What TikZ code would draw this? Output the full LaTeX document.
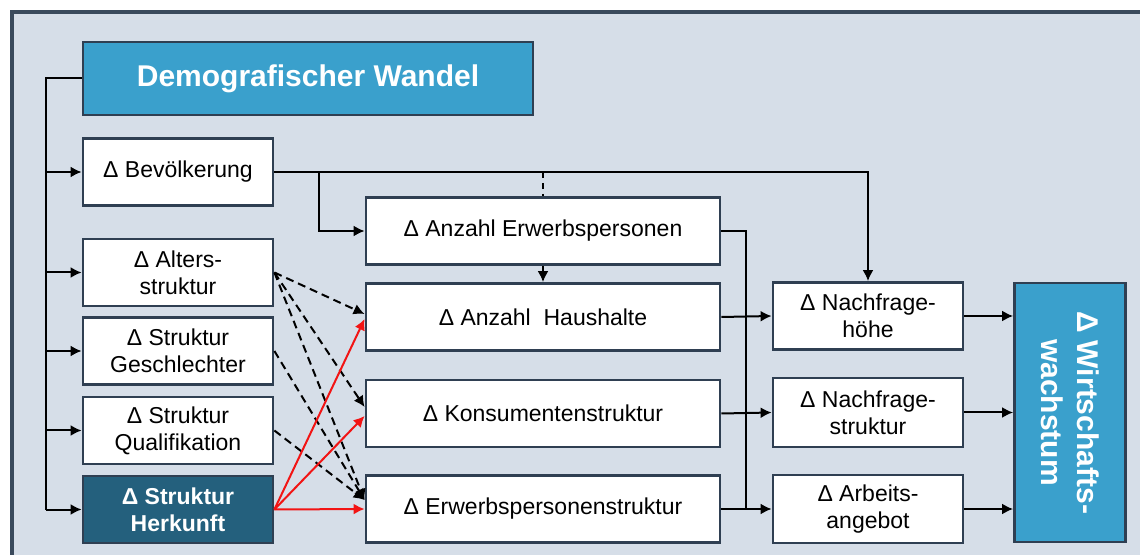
\documentclass[tikz,border=0pt]{standalone}
\usepackage{fontspec}
\setmainfont{Liberation Sans}
\usepackage{tikz}
\usetikzlibrary{arrows.meta}

\definecolor{bgblue}{HTML}{D6DEE8}
\definecolor{framegray}{HTML}{3A4A5C}
\definecolor{boxline}{HTML}{2F3F52}
\definecolor{headblue}{HTML}{3AA0CC}
\definecolor{darkteal}{HTML}{24607D}
\definecolor{arrowred}{HTML}{F21414}

\begin{document}
\begin{tikzpicture}[x=0.5pt,y=-0.5pt,>={Latex[length=5.5pt,width=5.5pt]},
        box/.style={draw=boxline,line width=1.4pt,fill=white,minimum width=95pt,
            minimum height=33.5pt,align=center,inner sep=1pt,
            font=\fontsize{11.5}{13.5}\selectfont},
        wide/.style={box,minimum width=177pt},
        head/.style={box,fill=headblue,text=white,font=\bfseries\fontsize{15}{18}\selectfont},
        link/.style={line width=1pt},
        influence/.style={line width=1pt,dash pattern=on 4pt off 2.5pt},
        redlink/.style={line width=1pt,arrowred}]
        \useasboundingbox (0,0) rectangle (1140,555);
        \clip (0,0) rectangle (1140,555);
        \draw[framegray,line width=1.6pt,fill=bgblue] (12,12) rectangle (1170,590);

        % Ursache
        \node[head,minimum width=225pt,minimum height=36.5pt] (demo) at (308,78.5) {Demografischer Wandel};
        \node[box] (bev) at (178,172) {Δ Bevölkerung};
        \node[box] (alter) at (178,272.5) {Δ Alters-\\struktur};
        \node[box] (geschl) at (178,351) {Δ Struktur\\Geschlechter};
        \node[box] (quali) at (178,430.5) {Δ Struktur\\Qualifikation};
        \node[box,fill=darkteal,text=white,font=\bfseries\fontsize{11.5}{13.5}\selectfont] (herk) at (178,509.5) {Δ Struktur\\Herkunft};

        % Mitte
        \node[wide] (erwp) at (543,231) {Δ Anzahl Erwerbspersonen};
        \node[wide] (haush) at (543,317) {Δ Anzahl~~Haushalte};
        \node[wide] (konsum) at (543,413.5) {Δ Konsumentenstruktur};
        \node[wide] (erwstr) at (543,509) {Δ Erwerbspersonenstruktur};

        % Wirkung
        \node[box] (nfhoehe) at (868,316) {Δ Nachfrage-\\höhe};
        \node[box,minimum height=34.5pt] (nfstr) at (868,412.5) {Δ Nachfrage-\\struktur};
        \node[box,minimum height=34pt] (arbeit) at (868,509) {Δ Arbeits-\\angebot};
        \node[head,rotate=-90,minimum width=129.5pt,minimum height=55.5pt] (wachs) at (1070,412.5) {Δ Wirtschafts-\\wachstum};

        \coordinate (trunk) at (46,78.5);
        \coordinate (bevsplit) at (319,172);
        \coordinate (junc) at (746,509);

        \draw[link] (demo.west) -- (trunk) -- (trunk |- herk.west);
        \foreach \n in {bev,alter,geschl,quali,herk}
            \draw[link,->] (trunk |- \n.west) -- (\n.west);

        \draw[link,->] (bev.east) -| (nfhoehe.north);
        \draw[link,->] (bevsplit) |- (erwp.west);
        \draw[line width=1pt,dash pattern=on 3pt off 2.5pt] (erwp.north |- bev.east) -- (erwp.north);
        \draw[link,->] (erwp.south) -- (haush.north);
        \draw[link] (erwp.east) -| (junc);

        \draw[influence,->] (alter.east) -- ([yshift=1.5pt]haush.west);
        \draw[influence,->] (alter.east) -- ([yshift=3.25pt]konsum.west);
        \draw[influence,->] (alter.east) -- ([yshift=4.5pt]erwstr.west);
        \draw[influence,->] (geschl.east) -- ([yshift=4.5pt]erwstr.west);
        \draw[influence,->] (quali.east) -- ([yshift=4.5pt]erwstr.west);

        \draw[redlink,->] (herk.east) -- ([yshift=-1pt]haush.west);
        \draw[redlink,->] (herk.east) -- ([yshift=-1.25pt]konsum.west);
        \draw[redlink,->] (herk.east) -- (erwstr.west);

        \draw[link,->] (haush.east) -- (nfhoehe.west);
        \draw[link,->] (konsum.east) -- (nfstr.west);
        \draw[link,->] (erwstr.east) -- (arbeit.west);
        \draw[link,->] (nfhoehe.east) -- (nfhoehe.east -| wachs.south);
        \draw[link,->] (nfstr.east) -- (nfstr.east -| wachs.south);
        \draw[link,->] (arbeit.east) -- (arbeit.east -| wachs.south);
    \end{tikzpicture}
\end{document}
